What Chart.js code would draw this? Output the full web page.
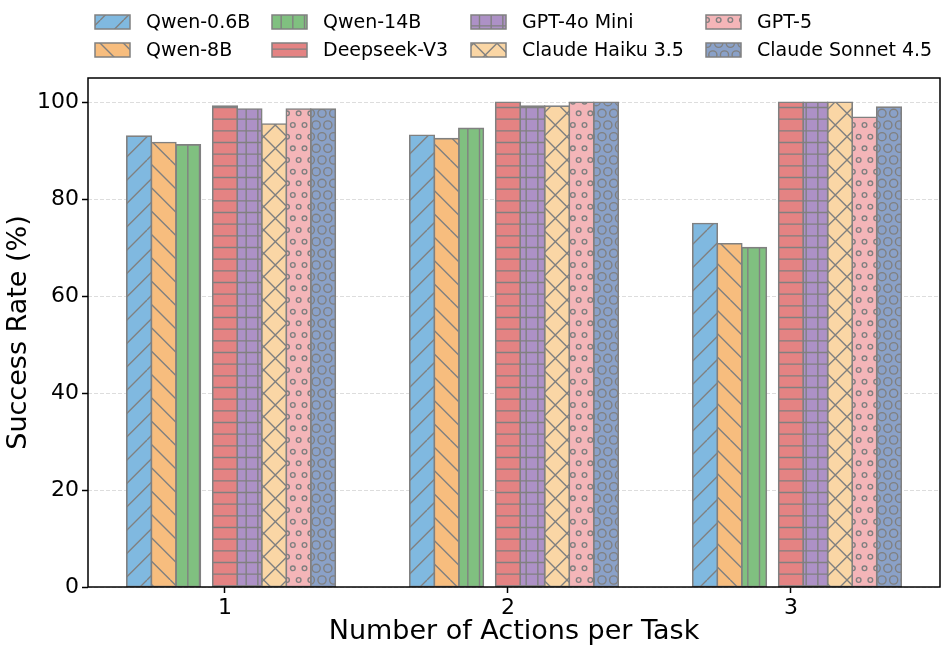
<!DOCTYPE html>
<html>
<head>
<meta charset="utf-8">
<script src="https://cdn.jsdelivr.net/npm/chart.js@4.4.1/dist/chart.umd.min.js"></script>
<style>
  html, body { margin: 0; padding: 0; background: #ffffff; }
</style>
</head>
<body>
<canvas id="successChart" width="947" height="653"></canvas>
<script>
// data
const categories = [1, 2, 3];
const categoryLabels = ['1', '2', '3'];
const yTicks = [0, 20, 40, 60, 80, 100];
const models = ['Qwen-0.6B', 'Qwen-8B', 'Qwen-14B', 'Deepseek-V3',
                'GPT-4o Mini', 'Claude Haiku 3.5', 'GPT-5', 'Claude Sonnet 4.5'];

const qwen06b = [93.0, 93.2, 75.0];
const qwen8b = [91.7, 92.5, 70.8];
const qwen14b = [91.2, 94.6, 70.0];
const deepseekV3 = [99.2, 100, 100];
const gpt4oMini = [98.6, 99.2, 100];
const claudeHaiku = [95.5, 99.2, 100];
const gpt5 = [98.6, 100, 96.9];
const claudeSonnet = [98.6, 100, 99.0];
const seriesValues = [qwen06b, qwen8b, qwen14b, deepseekV3, gpt4oMini, claudeHaiku, gpt5, claudeSonnet];

// styling
const fillColors = ['#80b9e0', '#f7bd7e', '#80c080', '#e48383',
                    '#ad91c6', '#fad6a5', '#f4b5b8', '#8aa1c8'];
const hatches = ['/', '\\', '|', '-', '+', 'x', 'o', 'O'];
const EDGE = '#808080';
const BAR_W = 0.0867;
const slotShift = [-3.5, -2.5, -1.5, 0, 1, 2, 3, 4];
const legendCols = [95, 272, 471, 706];
const legendRows = [22, 50];

Chart.defaults.font.family = '"DejaVu Sans", sans-serif';
Chart.defaults.color = '#000';

function makeHatch(hatch, fill) {
    const u = 70, s = u / 6, d = u / 3;
    const tile = document.createElement('canvas');
    tile.width = u;
    tile.height = u;
    const t = tile.getContext('2d');
    t.fillStyle = fill;
    t.fillRect(0, 0, u, u);
    t.strokeStyle = EDGE;
    t.lineWidth = 1.4;
    t.beginPath();
    if (hatch === '/' || hatch === 'x') {
        for (let c = 0; c <= 2 * u + 0.1; c += d) { t.moveTo(c, 0); t.lineTo(c - u, u); }
    }
    if (hatch === '\\' || hatch === 'x') {
        for (let c = 0; c <= 2 * u + 0.1; c += d) { t.moveTo(c - u, 0); t.lineTo(c, u); }
    }
    if (hatch === '|' || hatch === '+') {
        for (let k = 0; k < 6; k++) { t.moveTo(s / 2 + k * s, 0); t.lineTo(s / 2 + k * s, u); }
    }
    if (hatch === '-' || hatch === '+') {
        for (let k = 0; k < 6; k++) { t.moveTo(0, s / 2 + k * s); t.lineTo(u, s / 2 + k * s); }
    }
    t.stroke();
    if (hatch === 'o' || hatch === 'O') {
        const r = s * (hatch === 'o' ? 0.2 : 0.35);
        for (let row = 0; row <= 6; row++) {
            const cols = row % 2 === 0 ? 7 : 6;
            const x0 = row % 2 === 0 ? 0 : s / 2;
            for (let j = 0; j < cols; j++) {
                t.beginPath();
                t.arc(x0 + j * s, row * s, r, 0, Math.PI * 2);
                t.stroke();
            }
        }
    }
    const p = t.createPattern(tile, 'repeat');
    p.setTransform(new DOMMatrix([1, 0, 0, 1, 7, 20]));
    return p;
}

const patterns = hatches.map((h, i) => makeHatch(h, fillColors[i]));

const datasets = models.map((name, i) => ({
    label: name,
    data: categories.map((c, j) => ({ x: c + slotShift[i] * BAR_W, y: seriesValues[i][j] })),
    backgroundColor: patterns[i],
    borderColor: EDGE,
    borderWidth: 1.6,
    borderSkipped: false,
    inflateAmount: 0.8,
    grouped: false,
    barPercentage: 1,
    categoryPercentage: 1
}));

const frameAndLegend = {
    id: 'frameAndLegend',
    afterDraw(chart) {
        const c = chart.ctx;
        const a = chart.chartArea;
        c.save();
        c.strokeStyle = '#000';
        c.lineWidth = 1.5;
        c.strokeRect(a.left, a.top, a.right - a.left, a.bottom - a.top);

        c.font = '19px "DejaVu Sans"';
        c.textBaseline = 'middle';
        c.textAlign = 'left';
        models.forEach((name, i) => {
            const x = legendCols[Math.floor(i / 2)];
            const y = legendRows[i % 2];
            c.fillStyle = patterns[i];
            c.fillRect(x, y - 7, 35, 14);
            c.strokeStyle = EDGE;
            c.lineWidth = 1.5;
            c.strokeRect(x, y - 7, 35, 14);
            c.fillStyle = '#000';
            c.fillText(name, x + 51, y + 1);
        });
        c.restore();
    }
};

const ctx = document.getElementById('successChart').getContext('2d');

const successChart = new Chart(ctx, {
    type: 'bar',
    data: { datasets: datasets },
    plugins: [frameAndLegend],
    options: {
        responsive: false,
        animation: false,
        layout: { padding: { top: 78, right: 7, left: 0, bottom: 0 } },
        plugins: {
            legend: { display: false },
            tooltip: { enabled: false }
        },
        scales: {
            x: {
                type: 'linear',
                offset: false,
                min: 0.516,
                max: 3.527,
                afterBuildTicks: scale => { scale.ticks = categories.map(v => ({ value: v })); },
                afterFit: scale => { scale.height = 66; },
                grid: { offset: false, drawOnChartArea: false, drawTicks: true, tickLength: 6, tickColor: '#000', tickWidth: 1.5 },
                border: { display: false },
                ticks: {
                    font: { size: 22 },
                    padding: 2,
                    maxRotation: 0,
                    callback: (v, i) => categoryLabels[i]
                },
                title: {
                    display: true,
                    text: 'Number of Actions per Task',
                    font: { size: 27 },
                    padding: { top: 0, bottom: 5 }
                }
            },
            y: {
                min: 0,
                max: 105,
                afterBuildTicks: scale => { scale.ticks = yTicks.map(v => ({ value: v })); },
                afterFit: scale => { scale.width = 88; },
                grid: { color: '#d4d4d4', lineWidth: 0.8, tickLength: 6, tickColor: '#000', tickWidth: 1.5 },
                border: { display: false, dash: [4, 2] },
                ticks: {
                    font: { size: 22 },
                    padding: 3,
                    callback: v => String(v)
                },
                title: {
                    display: true,
                    text: 'Success Rate (%)',
                    font: { size: 27 },
                    padding: { top: 3, bottom: 0 }
                }
            }
        }
    }
});
</script>
</body>
</html>
